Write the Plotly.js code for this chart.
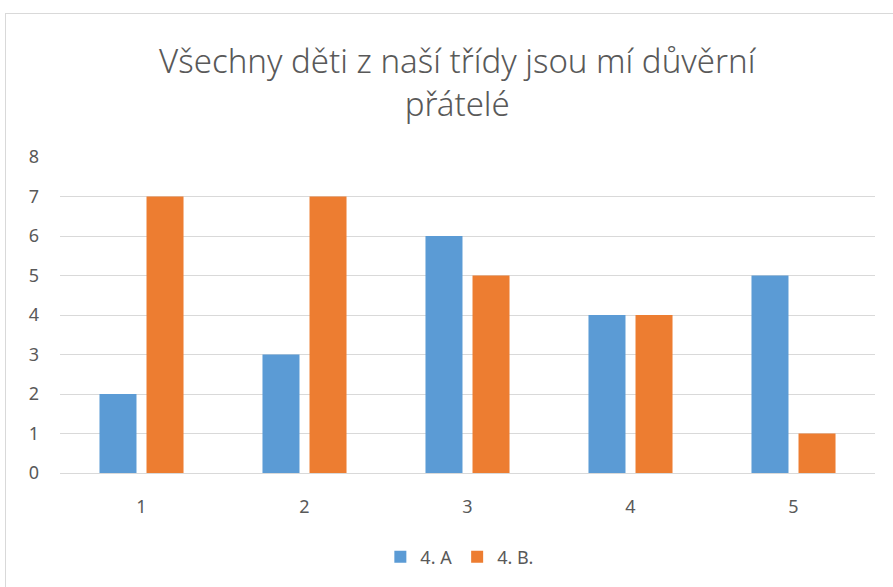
<!DOCTYPE html>
<html>
<head>
<meta charset="utf-8">
<script src="https://cdn.plot.ly/plotly-3.0.1.min.js"></script>
<style>
  html, body { margin: 0; padding: 0; background: #ffffff; }
  #frame { position: absolute; left: 5px; top: 13px; width: 900px; height: 600px; border: 1px solid #d9d9d9; box-sizing: border-box; }
  #chart { position: absolute; left: 0; top: 0; width: 893px; height: 587px; }
</style>
</head>
<body>
<div id="frame"></div>
<div id="chart"></div>
<script>
const categories = ["1", "2", "3", "4", "5"];
const seriesNames = ["4. A", "4. B."];
const valuesA = [2, 3, 6, 4, 5];
const valuesB = [7, 7, 5, 4, 1];
const yTicks = [0, 1, 2, 3, 4, 5, 6, 7, 8];
const titleText = "Všechny děti z naší třídy jsou mí důvěrní<br>přátelé";

const font = "Noto Sans, Open Sans, sans-serif";
const textColor = "#595959";

const traces = [
  { type: "bar", name: seriesNames[0], x: categories, y: valuesA, marker: { color: "#5b9bd5" } },
  { type: "bar", name: seriesNames[1], x: categories, y: valuesB, marker: { color: "#ed7d31" } }
];

const layout = {
  width: 893, height: 587,
  paper_bgcolor: "rgba(0,0,0,0)",
  plot_bgcolor: "rgba(0,0,0,0)",
  margin: { l: 60, r: 18, t: 157, b: 114, pad: 0 },
  font: { family: font, color: textColor, size: 18 },
  title: {
    text: titleText,
    font: { family: font, size: 33, weight: 300, color: textColor },
    x: 0.512, xanchor: "center",
    y: 0.876, yref: "container", yanchor: "middle"
  },
  barmode: "group",
  bargap: 0.423,
  bargroupgap: 0.213,
  showlegend: true,
  legend: {
    orientation: "h", x: 0.49, xanchor: "center", y: -0.266, yanchor: "middle",
    font: { family: font, size: 18, color: textColor },
    traceorder: "normal"
  },
  xaxis: {
    type: "category",
    showgrid: false, zeroline: false, showline: false,
    ticks: "", ticklabelstandoff: 21,
    tickfont: { family: font, size: 18, color: textColor }
  },
  yaxis: {
    range: [0, 8], tickvals: yTicks, ticktext: yTicks.map(String),
    showgrid: true, gridcolor: "#d9d9d9", gridwidth: 1,
    zeroline: true, zerolinecolor: "#d9d9d9", zerolinewidth: 1,
    showline: false, ticks: "", ticklabelstandoff: 20,
    tickfont: { family: font, size: 18, color: textColor }
  }
};

Plotly.newPlot("chart", traces, layout, { displayModeBar: false, staticPlot: true });
</script>
</body>
</html>
